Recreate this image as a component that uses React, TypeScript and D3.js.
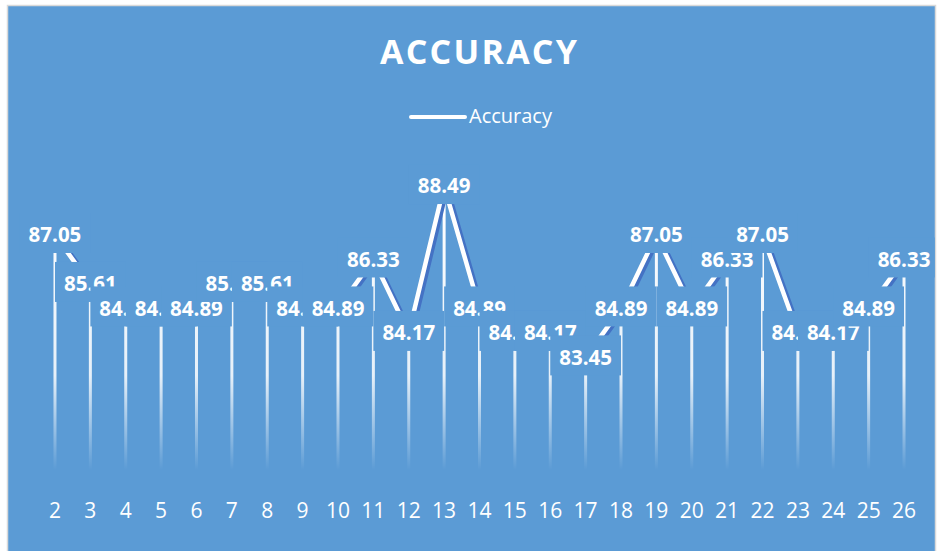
import React from "react";
import * as d3 from "d3";

const categories: string[] = ["2","3","4","5","6","7","8","9","10","11","12","13","14","15","16","17","18","19","20","21","22","23","24","25","26"];
const accuracy: number[] = [87.05,85.61,84.89,84.89,84.89,85.61,85.61,84.89,84.89,86.33,84.17,88.49,84.89,84.17,84.17,83.45,84.89,87.05,84.89,86.33,87.05,84.17,84.17,84.89,86.33];
const titleText = "ACCURACY";
const seriesName = "Accuracy";
const yDomain: [number, number] = [80, 90];

const W = 938;
const H = 551;
const BG = "#5B9BD5";
const SHADOW = "#4472C4";

export default function App() {
  const x = d3.scalePoint<string>().domain(categories).range([37.3, 921.7]).padding(0.5);
  const y = d3.scaleLinear().domain(yDomain).range([474.7, 134.7]);
  const data = categories.map((c, i) => ({ c, v: accuracy[i] }));
  const line = d3.line<{ c: string; v: number }>().x(d => x(d.c) as number).y(d => y(d.v));
  const path = line(data) || "";
  const font = "'Open Sans', 'DejaVu Sans', sans-serif";
  const halfW = x.step();

  return (
    <svg width={W} height={H} style={{ position: "absolute", left: 0, top: 0 }}>
      <defs>
        <linearGradient id="dropGrad" gradientUnits="userSpaceOnUse" x1={0} y1={200} x2={0} y2={470}>
          <stop offset="0" stopColor="#ffffff" stopOpacity={1} />
          <stop offset="0.65" stopColor="#ffffff" stopOpacity={0.85} />
          <stop offset="1" stopColor="#ffffff" stopOpacity={0} />
        </linearGradient>
        <clipPath id="chartClip">
          <rect x={8.25} y={6.25} width={926.5} height={560} />
        </clipPath>
      </defs>
      <rect x={0} y={0} width={W} height={H} fill="#ffffff" />
      <rect x={7.5} y={5.5} width={928} height={560} fill={BG} stroke="#D9D9D9" strokeWidth={1.5} />
      <text x={380} y={64} textLength={197} lengthAdjust="spacing" fill="#ffffff" fontFamily={font} fontWeight={700} fontSize={34}>{titleText}</text>
      <line x1={411} x2={465} y1={117} y2={117} stroke="#ffffff" strokeWidth={4} strokeLinecap="round" />
      <text x={469} y={123} fill="#ffffff" fontFamily={font} fontSize={20}>{seriesName}</text>
      <g clipPath="url(#chartClip)">
        {data.map(d => (
          <line key={"drop" + d.c} x1={x(d.c)} x2={x(d.c)} y1={y(d.v)} y2={y(yDomain[0])} stroke="url(#dropGrad)" strokeWidth={3} />
        ))}
        <path d={path} fill="none" stroke={SHADOW} strokeWidth={4.5} strokeLinejoin="round" transform="translate(3,1.5)" />
        <path d={path} fill="none" stroke="#ffffff" strokeWidth={4.5} strokeLinejoin="round" />
        {data.map(d => {
          const cx = x(d.c) as number;
          const py = y(d.v);
          return (
            <g key={"lab" + d.c}>
              <rect x={cx - halfW} y={py - 22} width={halfW * 2} height={40} fill={BG} />
              <text x={cx} y={py + 7.2} textAnchor="middle" fill="#ffffff" fontFamily={font} fontWeight={700} fontSize={20.5}>{d.v.toFixed(2)}</text>
            </g>
          );
        })}
      </g>
      {categories.map(c => (
        <text key={"ax" + c} x={x(c)} y={518} textAnchor="middle" fill="#ffffff" fontFamily={font} fontSize={21}>{c}</text>
      ))}
    </svg>
  );
}
